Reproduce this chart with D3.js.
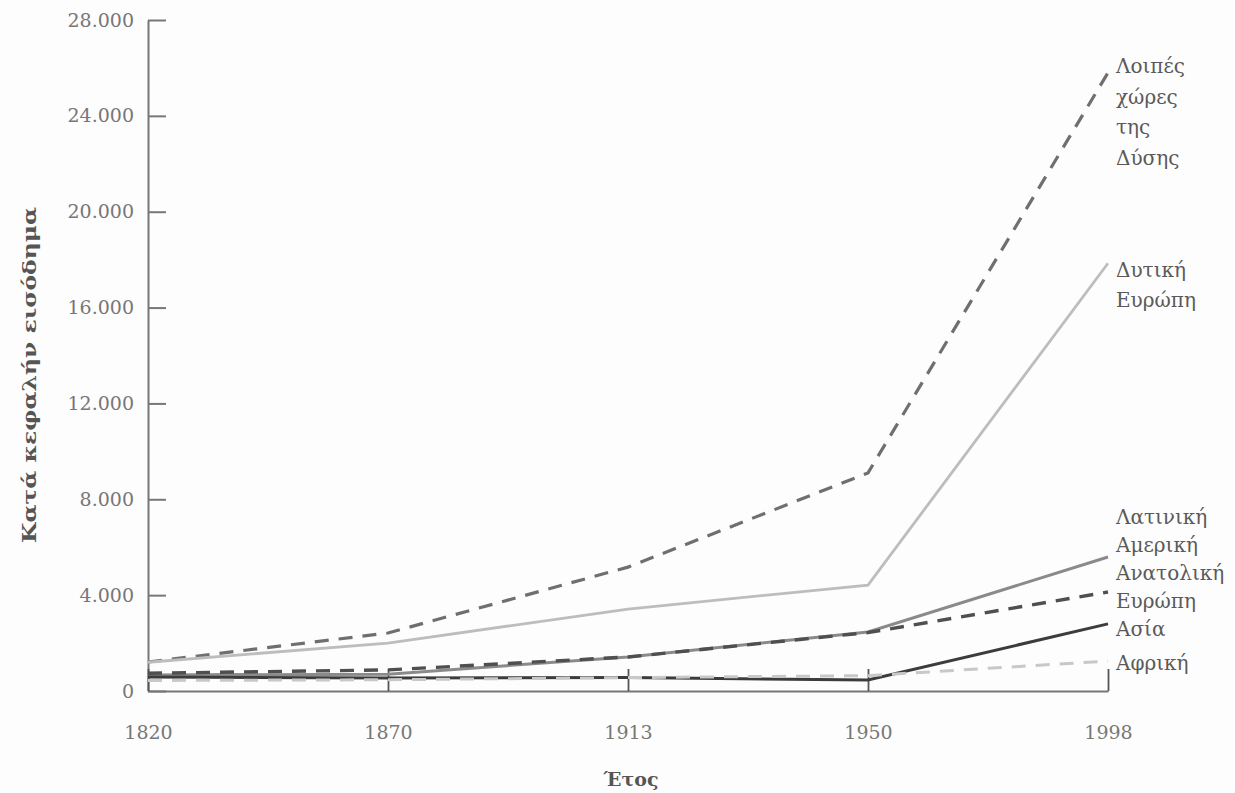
<!DOCTYPE html>
<html>
<head>
<meta charset="UTF-8">
<title>Κατά κεφαλήν εισόδημα</title>
<script src="https://d3js.org/d3.v7.min.js"></script>
<style>
  body { margin: 0; background: #fdfdfd; }
  svg { display: block; }
</style>
</head>
<body>
<script>
  // data
  var years = ["1820", "1870", "1913", "1950", "1998"];
  var westOffshoots = [1210, 2420, 5170, 9100, 25800];
  var westEurope   = [1200, 2000, 3420, 4420, 17850];
  var latinAmerica = [670, 700, 1420, 2460, 5590];
  var eastEurope   = [740, 880, 1420, 2440, 4130];
  var asia         = [580, 540, 560, 460, 2800];
  var africa       = [440, 470, 560, 640, 1250];
  var yTicks = [0, 4000, 8000, 12000, 16000, 20000, 24000, 28000];

  var series = [
    { name: ["Λοιπές", "χώρες", "της", "Δύσης"], values: westOffshoots, color: "#6f6f6f", dash: "14,10", w: 3.2, ly: 73, lh: 30.5 },
    { name: ["Δυτική", "Ευρώπη"], values: westEurope, color: "#bdbdbd", dash: null, w: 2.8, ly: 277, lh: 30 },
    { name: ["Λατινική", "Αμερική"], values: latinAmerica, color: "#8a8a8a", dash: null, w: 3, ly: 524, lh: 28 },
    { name: ["Ανατολική", "Ευρώπη"], values: eastEurope, color: "#4f4f4f", dash: "14,10", w: 3.4, ly: 580, lh: 28 },
    { name: ["Ασία"], values: asia, color: "#3c3c3c", dash: null, w: 3, ly: 636, lh: 28 },
    { name: ["Αφρική"], values: africa, color: "#c8c8c8", dash: "14,10", w: 3, ly: 670, lh: 28 }
  ];

  var width = 1235, height = 793;
  var font = "'DejaVu Serif', serif";
  var svg = d3.select("body").append("svg")
      .attr("width", width)
      .attr("height", height);

  var x = d3.scalePoint().domain(years).range([148, 1108]);
  var y = d3.scaleLinear().domain([0, 28000]).range([691, 20]);

  var loc = d3.formatLocale({ decimal: ",", thousands: ".", grouping: [3], currency: ["", ""] });
  var fmt = loc.format(",");

  var yAxis = svg.append("g")
      .attr("transform", "translate(148,0)")
      .call(d3.axisLeft(y).tickValues(yTicks).tickFormat(fmt)
            .tickSizeInner(-18).tickSizeOuter(0).tickPadding(14));
  yAxis.select(".domain").attr("stroke", "#777").attr("stroke-width", 2);
  yAxis.selectAll(".tick line").attr("stroke", "#777").attr("stroke-width", 2);
  yAxis.selectAll("text")
      .attr("fill", "#777")
      .style("font-family", font)
      .style("font-size", "19px");

  var xAxis = svg.append("g")
      .attr("transform", "translate(0,691)")
      .call(d3.axisBottom(x).tickSizeInner(-22).tickSizeOuter(0).tickPadding(35));
  xAxis.select(".domain").attr("stroke", "#777").attr("stroke-width", 2);
  xAxis.selectAll(".tick line").attr("stroke", "#555").attr("stroke-width", 1.8);
  xAxis.selectAll("text")
      .attr("fill", "#777")
      .style("font-family", font)
      .style("font-size", "19px");

  var line = d3.line()
      .x(function(d, i) { return x(years[i]); })
      .y(function(d) { return y(d); });

  svg.selectAll("path.series")
      .data(series)
      .enter().append("path")
      .attr("class", "series")
      .attr("fill", "none")
      .attr("stroke", function(d) { return d.color; })
      .attr("stroke-width", function(d) { return d.w; })
      .attr("stroke-dasharray", function(d) { return d.dash; })
      .attr("d", function(d) { return line(d.values); });

  series.forEach(function(s) {
    var t = svg.append("text")
        .attr("x", 1116)
        .attr("y", s.ly)
        .attr("fill", "#5a5a5a")
        .style("font-family", font)
        .style("font-size", "20px");
    t.selectAll("tspan")
      .data(s.name)
      .enter().append("tspan")
      .attr("x", 1116)
      .attr("dy", function(d, i) { return i === 0 ? 0 : s.lh; })
      .text(function(d) { return d; });
  });

  // axis titles
  svg.append("text")
      .attr("transform", "translate(36,375) rotate(-90)")
      .attr("text-anchor", "middle")
      .attr("fill", "#555")
      .attr("textLength", 336)
      .attr("lengthAdjust", "spacingAndGlyphs")
      .style("font-family", font)
      .style("font-weight", "bold")
      .style("font-size", "19px")
      .text("Κατά κεφαλήν εισόδημα");

  svg.append("text")
      .attr("x", 631)
      .attr("y", 786)
      .attr("text-anchor", "middle")
      .attr("fill", "#555")
      .style("font-family", font)
      .style("font-weight", "bold")
      .style("font-size", "19px")
      .text("Έτος");
</script>
</body>
</html>
